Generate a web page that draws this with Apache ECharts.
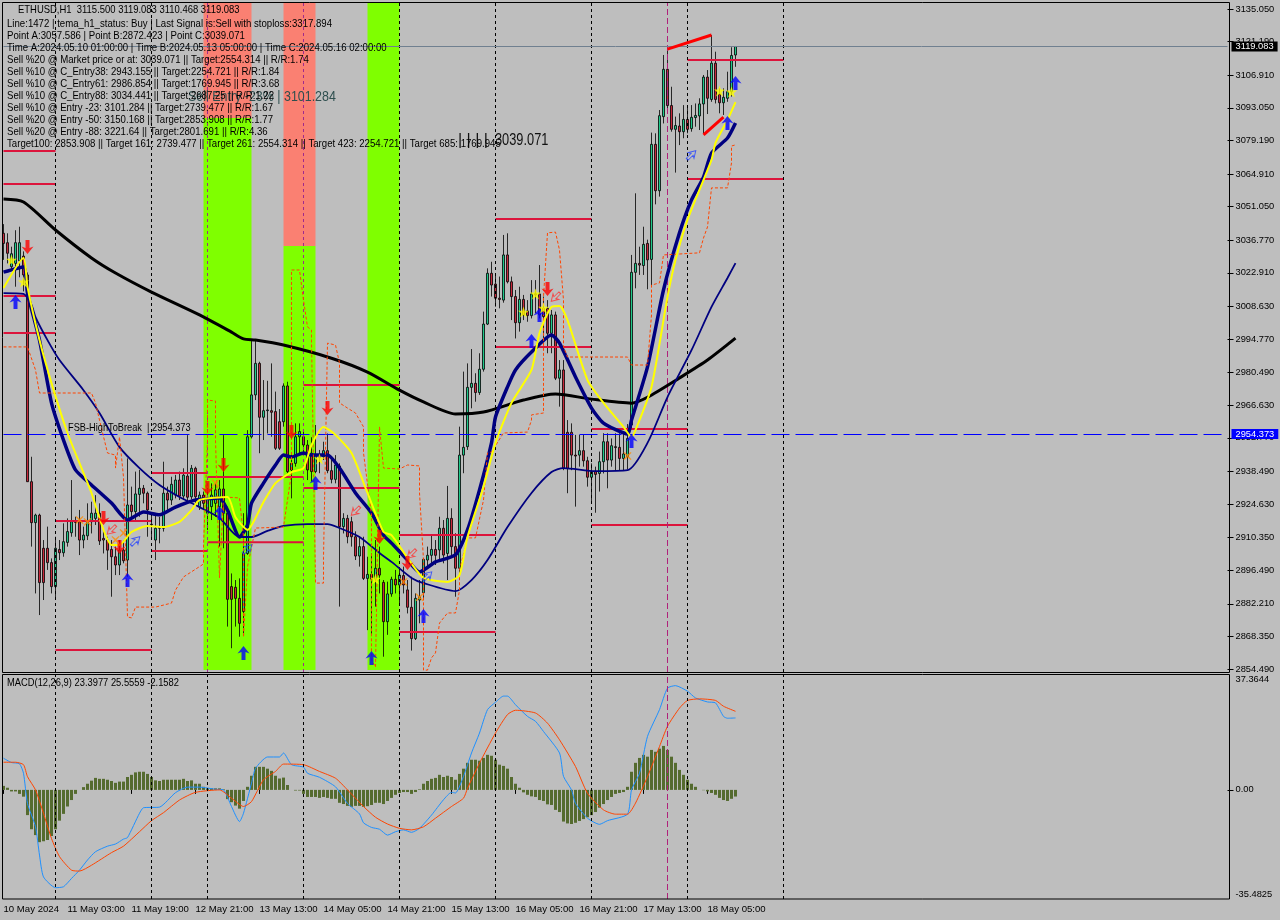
<!DOCTYPE html>
<html><head><meta charset="utf-8">
<style>html,body{margin:0;padding:0;background:#BEBEBE}#c{width:1280px;height:920px}</style>
<script src="https://cdn.jsdelivr.net/npm/echarts@6/dist/echarts.min.js"></script>
</head><body><div id="c"></div>
<script>
// [open, close, low, high] per H1 bar
const candles = [
[3039.7,3035.4,3028.4,3043.6],[3035.7,3031.2,3026.9,3039.7],[3025.5,3031,3024,3034],[3026.9,3035.7,3017,3041],[3028,3035.7,3021,3042.5],[3030,3022,3015,3032],[3022,2934.1,2934,3023],[2934.1,2916.7,2906.5,2944.7],
[2916.7,2919.9,2886.6,2920.5],[2919.9,2891.2,2877.4,2920.5],[2905.8,2891.2,2883.8,2909.3],[2905.8,2899.7,2896.6,2915],[2899.7,2889.5,2886.6,2901.5],[2889.5,2905.8,2884.5,2910.7],[2905.3,2903.9,2900.8,2909.3],[2903.9,2908.6,2902.2,2916.4],
[2908.3,2912.9,2906.5,2918.5],[2912.4,2917.1,2910.7,2934.8],[2917.1,2916.8,2910.7,2919.2],[2917.1,2909.3,2902.9,2922.1],[2909.3,2911.4,2905.8,2915],[2911.1,2917.1,2909.3,2924.9],[2917.1,2920.7,2912.1,2925.6],[2918.5,2920.7,2915.7,2928.4],
[2920.7,2908.9,2907.2,2924.9],[2910,2909.3,2903.6,2913.6],[2909.3,2905,2896.6,2910.7],[2905.3,2902.2,2885.2,2909.3],[2902.2,2898.7,2894.4,2906.5],[2898.7,2905,2894.4,2909.3],[2905,2900.5,2899.4,2909.3],[2900.8,2924.2,2893.7,2944],
[2924.2,2921.4,2917.8,2932],[2921.4,2928.9,2917.1,2938.4],[2928.7,2931.3,2919.2,2939.1],[2931.3,2929.2,2924.9,2932.7],[2929.2,2922.1,2910.7,2929.9],[2916,2915.8,2910,2920],[2909.3,2914.3,2900.8,2920.7],[2914.3,2914.6,2907.9,2919.2],
[2914.3,2929.2,2912.9,2942.6],[2929.2,2926.3,2922.1,2932],[2926.3,2933,2924.2,2936.2],[2928.4,2934.8,2927,2937],[2934.8,2928,2926.3,2938.4],[2928,2936.9,2926.3,2939.8],[2936.5,2927.5,2925.6,2953.9],[2927.7,2939.8,2926.6,2941.2],
[2939.8,2927.7,2924.9,2940.5],[2923.5,2928.4,2922.1,2929.9],[2928.4,2924.9,2922.1,2929.9],[2920.7,2927,2913.6,2931.3],[2923.5,2928.4,2917.8,2933.4],[2924.9,2930.6,2919.2,2933.4],[2923.5,2931,2906.5,2934.8],[2931,2920.7,2905.8,2953.9],
[2920.7,2884.1,2872.5,2923.5],[2889.5,2884.1,2863.3,2895.1],[2889.2,2884.5,2872.5,2892.3],[2884.5,2873.9,2868.2,2893],[2878.9,2903.6,2869.6,2920.7],[2903.6,2953.2,2903,2956],[2953.2,2971,2952.5,2994],[2971,2984.4,2968.8,2994.3],
[2984.4,2961.5,2946.2,2985.1],[2961.5,2964.3,2951.8,2977.3],[2964.3,2964.6,2954.6,2977],[2964.3,2963.6,2953.2,2984.4],[2963.9,2948.3,2947.6,2972.4],[2959.6,2948.3,2947.6,2965],[2959.6,2974.8,2957.5,2975.9],[2974.8,2938.4,2937.7,2976.6],
[2939.1,2941.9,2927,2946.2],[2941.9,2953.2,2940.5,2958.9],[2953.2,2955.4,2946.2,2958.9],[2953.2,2949.7,2946.2,2956],[2949.7,2939.1,2934.8,2951.8],[2946.2,2938.4,2934.1,2953],[2938.4,2945.4,2937.7,2958.2],[2944.7,2944.5,2937.7,2947.6],
[2944.7,2947.3,2943.3,2951.1],[2947.3,2938.8,2937.7,2954.6],[2938.8,2935.1,2933.4,2944],[2935.1,2941.2,2933.4,2945.4],[2940.8,2915,2881,2941.9],[2915,2918.5,2912.1,2920.7],[2918.5,2910.7,2907.9,2920],[2917.1,2910.7,2906.5,2919.2],
[2910.7,2902.5,2900.8,2913],[2902.5,2906.5,2898,2910.7],[2906.5,2893,2892.3,2910.7],[2893,2894.7,2871,2902.2],[2894.7,2892.7,2868.9,2903.6],[2892.7,2897.3,2881,2909.3],[2897.3,2894.4,2886.6,2906.5],[2891.3,2874.6,2859.7,2892.3],
[2874.6,2886.4,2869,2891.6],[2886.4,2892.6,2885.2,2893.7],[2892.6,2890.2,2886.6,2896.6],[2890.2,2894.4,2882.4,2896.6],[2894.2,2890.2,2886.6,2898],[2888.1,2880.7,2878.1,2892.3],[2880.7,2867.4,2862.3,2893.7],[2867.4,2884.5,2866.8,2886.6],
[2883.8,2885.2,2873.9,2892.3],[2886.9,2901.1,2883.8,2901.5],[2900.8,2902.8,2897.3,2906.5],[2902.8,2905.3,2899.4,2911.4],[2905.3,2902.8,2898.7,2909.3],[2905.1,2914.3,2900.1,2919.2],[2914.3,2902.9,2899.4,2917.8],[2903.6,2918.5,2892.3,2932.3],
[2918.5,2906.5,2902.9,2922.8],[2906.5,2897.3,2885.2,2912.2],[2897.3,2945.4,2895.1,2957.5],[2945.4,2948.7,2937.7,2980.9],[2949,2974.2,2947.6,2984.4],[2974.2,2975.9,2965.3,2990.5],[2975.9,2972,2968.1,2980.2],[2972,2981.9,2971,2988.7],
[2981.9,3001.1,2980.9,3006.4],[3001.1,3022.7,3000.7,3024.8],[3022.7,3017.7,3012.8,3027.6],[3018.1,3012.1,3008.5,3022.7],[3012.1,3011.6,3007.8,3021.3],[3011.3,3030.5,3010.2,3039],[3030.5,3019.1,3018.4,3039.7],[3019.1,3012.8,3002.8,3021.3],
[3012.8,3001.7,2995,3015.6],[3001.7,3011.6,2997.9,3017],[3011.6,3005,3002.8,3013.5],[3006.7,3004.7,3002.1,3011.3],[3004.7,3013.9,3003.5,3019.8],[3014,3013.5,3005.7,3019.8],[3013.9,3005,3003.5,3026.2],[3007.8,3004.3,2994.3,3012.8],
[3007.8,2997.2,2988.7,3011.3],[2997.2,3005,2988.7,3007.1],[3005,2978.1,2977.3,3006.4],[2978.1,2981.6,2966,2985.8],[2981.6,2939.8,2939,2985.8],[2955.1,2939.8,2929.2,2960.3],[2955.1,2945.4,2939,2958.9],[2945.4,2945,2923.5,2954],
[2945.4,2947.3,2940.5,2954],[2947.3,2943,2940.5,2954],[2943,2936,2932,2944.7],[2936,2938.4,2925.2,2941.9],[2938.4,2937.2,2920.9,2940.5],[2937.6,2942.6,2929.9,2946.9],[2942.6,2951.1,2937.6,2954.7],[2951.1,2943.3,2931.3,2954.7],
[2943.3,2949.4,2940.5,2952.5],[2949,2948.6,2939,2954.7],[2948.7,2944,2939,2954.7],[2944,2945.9,2939,2954.7],[2944.7,2952.5,2939.3,2958.6],[2958.2,3023.1,2956.8,3030.5],[3023.1,3026.9,3016.3,3056.7],[3026.9,3026.2,3022,3034],
[3026,3035,3022,3042.5],[3035.4,3028.4,3015.9,3037],[3028.6,3077.5,3017.7,3082.5],[3077.5,3057.8,3052,3082.2],[3057.8,3089.7,3055.3,3092.1],[3089.3,3109.4,3086.4,3115.5],[3109.4,3094,3091.4,3117.6],[3094,3083.9,3082.9,3102],
[3083.9,3085.5,3065.5,3089.3],[3085.3,3082.9,3077.2,3090.7],[3082.9,3088.1,3080.1,3094.2],[3088.1,3083.9,3082.2,3093.5],[3084.2,3089,3082.9,3094.2],[3088.9,3089.8,3085,3094.9],[3089.6,3094.7,3083.6,3097.1],[3094.7,3106.1,3082.2,3107],
[3106.1,3097.1,3090.4,3109.1],[3096.6,3112,3095.6,3124],[3112,3096.6,3094.9,3116.9],[3098.9,3095.2,3090.7,3101.3],[3095.2,3097.5,3090,3101.3],[3097.1,3099.9,3095.6,3108.4],[3099.9,3115.3,3097.8,3118.8],[3115.5,3119.083,3110.468,3119.083]
];
const emaBlack = [[0,3054.3],[5,3053],[13,3041.1],[22,3029.2],[28,3022.8],[37,3014.7],[49,3005],[57,2997.7],[60,2994.8],[63,2994.3],[70,2992.2],[82,2986.6],[91,2980.7],[99,2973],[105,2968],[113,2962.9],[120,2963.7],[130,2968.8],[138,2971.4],[147,2969.2],[157,2967.5],[161,2970],[169,2978.2],[176,2985.8],[183,2995.1]];
const navyThick = [[0,3023.2],[5,3025.4],[6,3014.3],[9,2994.3],[12,2967.6],[15,2951.8],[18,2939.1],[22,2932.7],[27,2925],[31,2917.8],[35,2921.2],[39,2920],[43,2923.3],[48,2926.3],[54,2927.2],[56,2922],[59,2910.6],[61,2915.7],[62,2925],[65,2933.5],[68,2941.2],[70,2945.4],[72,2944.6],[75,2946.3],[77,2945.4],[81,2945.4],[84,2939.9],[88,2929.3],[92,2920.8],[95,2911.4],[97,2908],[101,2900.8],[104,2895.7],[108,2900],[113,2903],[116,2913.6],[119,2930.6],[122,2950.6],[123,2961.6],[126,2974.4],[128,2981.6],[132,2989.2],[137,2996.5],[139,2993],[143,2978.6],[147,2965.4],[150,2959],[156,2954.4],[157,2960.3],[161,2982.9],[165,3015.6],[169,3039.9],[172,3053.9],[175,3063.6],[177,3073.8],[181,3080.2],[183,3086.6]];
const navyThin = [[0,3014.3],[5,3013.9],[7,3009.2],[8,3004.1],[11,2994.3],[14,2985.8],[20,2973],[24,2963.3],[29,2948.8],[34,2939.9],[39,2932.7],[44,2927.6],[49,2923.3],[54,2918.7],[59,2910.6],[62,2910.6],[66,2913.2],[70,2915.3],[76,2916.1],[81,2916.1],[84,2914.4],[89,2910.6],[94,2903.8],[97,2900],[102,2893.2],[105,2891],[113,2887.6],[117,2892.3],[121,2900.8],[126,2914.8],[132,2929.3],[137,2938.2],[140,2939.9],[148,2938.6],[156,2939],[161,2950.6],[166,2970.1],[172,2990],[177,3008.4],[181,3020.7],[183,3027]];
const yellowLine = [[0,3016.4],[5,3029.2],[6,3016.9],[9,2994.3],[12,2976],[16,2954.8],[20,2937.8],[22,2929.3],[25,2913.6],[27,2907.2],[29,2907.2],[32,2912.7],[36,2915.3],[40,2914.8],[44,2917],[47,2922],[49,2926.3],[56,2927.6],[58,2919],[61,2913.6],[65,2925.5],[68,2933.5],[72,2938.2],[75,2939.9],[77,2949.7],[80,2957.4],[83,2954],[87,2946.3],[91,2929.3],[95,2912.7],[97,2911.4],[101,2901.7],[105,2893.2],[111,2891.5],[114,2894.4],[116,2910.6],[120,2931.9],[123,2950.6],[127,2967.6],[132,2981.6],[134,2997.3],[137,3008.4],[139,3008.8],[141,3002.8],[146,2977.3],[150,2967.6],[155,2957.4],[157,2953.1],[158,2956],[162,2974.4],[166,3012.6],[168,3028.3],[171,3045.4],[177,3070.9],[178,3078.1],[181,3087.9],[183,3095.5]];
const orangeDash = [[0,2991.4],[5,2991.4],[6,2991.4],[8,2981.6],[9,2971.8],[22,2971.8],[23,2967.6],[24,2960.3],[26,2946.3],[28,2945.4],[28,2939.9],[29,2953.1],[30,2936.1],[31,2876.6],[32,2876.2],[33,2880.8],[38,2880.8],[42,2882.5],[43,2888],[45,2893.6],[50,2899.1],[50,2906.3],[51,2951.8],[51,2968.8],[53,2968.4],[53,2951.8],[54,2893.2],[55,2927.6],[59,2927.2],[60,2910.6],[60,2868],[61,2897.9],[63,2914.4],[70,2914.8],[72,2937.8],[72,3010.5],[72,3024.1],[74,3024.1],[75,3011.3],[76,2999.9],[77,2998.6],[77,2994.3],[78,2891],[80,2891],[80,2902],[81,2993],[83,2992.2],[84,2984.6],[84,2967.6],[86,2965.4],[88,2963.3],[90,2957.4],[90,2946.3],[92,2920],[92,2858.3],[93,2855.3],[94,2957.4],[95,2939.9],[99,2939.5],[101,2941.2],[104,2940.8],[104,2929.3],[105,2900.8],[105,2854],[106,2854],[107,2859.2],[108,2861.3],[109,2874],[111,2878.3],[113,2878.3],[114,2888],[114,2896.6],[116,2910.2],[118,2910.2],[120,2926.3],[121,2946.3],[122,2946.7],[125,2954.8],[131,2955.2],[132,2960.3],[132,2962.5],[135,2963.3],[135,2982.9],[135,3012.6],[136,3039.9],[138,3040.2],[139,3032.6],[140,3011.3],[140,2991.4],[141,2987.1],[156,2987.1],[157,2983.7],[161,2983.7],[162,3005],[162,3017.7],[164,3018.6],[165,3030.5],[174,3031.4],[175,3037.7],[176,3042.4],[177,3059],[181,3059],[182,3069.6],[182,3076.8],[183,3077.3]];
// level segments: [from bar, to bar, price]
const levels = [[0,13,3074.7],[0,13,3060.7],[0,13,3013],[0,13,2997.3],[13,37,2917.4],[13,37,2862.6],[37,51,2937.8],[37,51,2904.6],[51,75,2936.1],[51,75,2908.4],[75,99,2975.2],[75,99,2931.4],[99,123,2911.4],[99,123,2870.2],[123,147,3045.8],[123,147,2991.4],[147,171,2956.5],[147,171,2915.7],[171,195,3113.4],[171,195,3062.8]];
const trendA = [[166,3118],[177,3124]];
const trendB = [[175,3081.5],[180,3089.1]];
// zones: [from bar, to bar, low price, high price]
const limeZones = [[50,62,2854.05,3088.7],[70,78,2854.05,3034.3],[91,99,2854.05,3137.6]];
const salmonZones = [[50,62,3088.7,3137.6],[70,78,3034.3,3137.6]];
const blueUp = [[3,3010.5],[31,2892.3],[60,2861.3],[54,2920.8],[78,2933.5],[92,2859.2],[105,2877],[132,2993.9],[134,3005],[157,2951.4],[183,3103.6],[181,3086.6]];
const redDown = [[6,3033.9],[25,2918.7],[29,2906.3],[51,2931.4],[55,2941.2],[72,2955.2],[81,2965.4],[94,2910.6],[101,2899.5],[136,3016]];
const hollowRed = [[27,2913.6],[88,2921.6],[102,2903.4],[138,3012.6]];
const hollowBlue = [[33,2908.9],[61,2905.5],[106,2894],[172,3073]];
const yellowStars = [[2,3028.3],[5,3019],[79,2943.8],[93,2892.7],[130,3006.2],[133,3013.9],[135,3007.9],[179,3100.2],[182,3099.8]];
const orangeCross = [[19,2917.8],[21,2917],[28,2909.3],[30,2912.3],[53,2933.5],[100,2891.5],[104,2885],[156,2945]];
const separators = [13,37,75,99,123,147,171,195];
const sepMixed = [51,75];
const sepMagenta = 166;
const macdHist = [1.3,.7,-.5,-.5,-1.3,-2.2,-8.2,-12.8,-14.7,-17,-16.7,-16.3,-15,-12.8,-10,-7.8,-5.4,-3.3,-1.3,0,.9,2,3,3.9,3.6,3.6,3.3,2.9,2.3,2.7,2.7,4.2,4.9,5.7,5.9,5.9,5.2,4.2,3.1,2.9,3.3,3.3,3.3,3.3,3.3,3.6,2.9,3.1,2,2,1,.5,.5,.5,.5,.2,-3,-4,-5.1,-6.1,-3.6,1,4.6,7.5,7.5,7.5,6.9,6.2,4.6,3.7,4,1.6,0,-.2,-.2,-1.3,-2.3,-2.3,-2.3,-2.6,-2.3,-2.6,-2.9,-2.9,-4.2,-4.6,-5.2,-5.5,-5.2,-5.2,-5.5,-5.3,-4.9,-4.2,-4.2,-4.6,-3.6,-2.6,-1.6,-1,-.7,-.7,-1.3,-.7,.2,2,2.9,3.6,3.9,4.9,4.2,4.6,4.2,3.3,5.2,6.9,8.8,9.8,9.8,9.5,10.4,11.4,11.1,9.8,8.2,7.8,6.9,4.2,2,.7,-.8,-1.6,-2.1,-2.3,-3.3,-3.6,-4.7,-4.9,-6.5,-7.2,-10.3,-10.9,-11.1,-10.7,-10.1,-9.5,-8.9,-8.2,-7.2,-5.8,-4.6,-3.3,-2.3,-1.3,-1,-.7,1,5.9,8.8,10.4,11.4,10.8,13,12.4,13.4,14.3,13,10.8,8.8,6.5,4.9,3.3,2,1,0,-.1,-.5,-1,-1.6,-2.6,-3.3,-3.6,-2.9,-2.1582];
const macdMain = [[0,10.3],[2,8.9],[4,8.5],[5,5.4],[6,-4.4],[8,-12],[9,-21.2],[10,-28.3],[13,-31.8],[15,-31.5],[17,-28.8],[19,-26.1],[21,-22.8],[23,-20.1],[26,-18.3],[28,-17.6],[30,-16],[31,-15.5],[34,-7.6],[35,-5.8],[39,-5.6],[43,-.9],[46,.9],[49,.9],[53,.2],[55,0],[57,-5.4],[59,-10.3],[60,-7.6],[62,2.2],[63,7],[66,10.7],[69,10.7],[70,12],[72,8.2],[75,7.4],[76,5.4],[79,4.1],[83,1],[86,-4.4],[89,-7.8],[90,-10.7],[92,-12.2],[94,-12.8],[96,-14.7],[98,-13.6],[100,-13],[102,-13.8],[104,-12.5],[107,-8.2],[110,-3.2],[112,-.8],[113,-1],[115,4.4],[117,12],[119,18.5],[121,26.1],[123,28.5],[125,30.5],[126,30.5],[128,27.7],[131,23.9],[133,22.3],[135,19],[139,12],[140,4.4],[142,0],[143,-4.4],[146,-9.2],[149,-11.2],[151,-10],[156,-7.9],[157,0],[159,5.4],[161,17.4],[164,26.1],[166,33.1],[168,33.9],[171,32.1],[173,29.9],[176,28.6],[178,28.3],[180,23.9],[181,23.3],[183,23.3977]];
const macdSignal = [[0,9],[3,9],[5,8.2],[6,4.3],[8,0],[10,-7.6],[12,-15.8],[14,-21.7],[17,-26.1],[19,-26.4],[22,-24.5],[27,-20.4],[30,-18.3],[34,-13.6],[37,-10],[40,-7.4],[44,-3.3],[48,-.8],[54,0],[57,-2.7],[60,-5.4],[62,-3.8],[65,3.3],[68,6],[70,8.4],[75,8.2],[79,6],[83,3.8],[86,0],[90,-5.4],[93,-8.9],[96,-11.1],[99,-12.5],[102,-13],[105,-12],[108,-9.2],[112,-5.4],[115,-2.7],[116,.5],[119,8.7],[123,18.5],[126,24.5],[128,25.9],[133,25],[136,21.7],[139,16.3],[143,7.6],[146,-1.1],[150,-6.5],[153,-7.9],[156,-7.9],[158,-4.3],[161,4.3],[164,14.1],[166,20.7],[169,26.6],[171,29.1],[174,29.6],[178,29.1],[180,27.2],[183,25.5559]];
const priceTicks = [3135.05,3121.19,3106.91,3093.05,3079.19,3064.91,3051.05,3036.77,3022.91,3008.63,2994.77,2980.49,2966.63,2952.77,2938.49,2924.63,2910.35,2896.49,2882.21,2868.35,2854.49];
const macdTicks = [-35.4825,0,37.3644];
const timeLabels = ['10 May 2024','11 May 03:00','11 May 19:00','12 May 21:00','13 May 13:00','14 May 05:00','14 May 21:00','15 May 13:00','16 May 05:00','16 May 21:00','17 May 13:00','18 May 05:00'];
const infoLines = [
'Line:1472 | tema_h1_status: Buy | Last Signal is:Sell with stoploss:3317.894',
'Point A:3057.586 | Point B:2872.423 | Point C:3039.071',
'Time A:2024.05.10 01:00:00 | Time B:2024.05.13 05:00:00 | Time C:2024.05.16 02:00:00',
'Sell %20 @ Market price or at: 3039.071 || Target:2554.314 || R/R:1.74',
'Sell %10 @ C_Entry38: 2943.155 || Target:2254.721 || R/R:1.84',
'Sell %10 @ C_Entry61: 2986.854 || Target:1769.945 || R/R:3.68',
'Sell %10 @ C_Entry88: 3034.441 || Target:2687.25 || R/R:1.22',
'Sell %10 @ Entry -23: 3101.284 || Target:2739.477 || R/R:1.67',
'Sell %20 @ Entry -50: 3150.168 || Target:2853.908 || R/R:1.77',
'Sell %20 @ Entry -88: 3221.64 || Target:2801.691 || R/R:4.36',
'Target100: 2853.908 || Target 161: 2739.477 || Target 261: 2554.314 || Target 423: 2254.721 || Target 685: 1769.945'];
const headerText = 'ETHUSD,H1  3115.500 3119.083 3110.468 3119.083';
const macdText = 'MACD(12,26,9) 23.3977 25.5559 -2.1582';

const FONT = "'Liberation Sans',sans-serif";
const AXFS = 9.3;
const TIMEFS = 9.6;
const barCount = 307;
const categories = Array.from({length:barCount},(_,i)=>String(i));
const P_MAX = 3137.6, P_MIN = 2853.2;
const ink = '#000';
const sym = {
  up:'path://M6 0 L12 7.5 L8 6 L8 14 L4 14 L4 6 L0 7.5 Z',
  down:'path://M4 0 L8 0 L8 8 L12 6.5 L6 14 L0 6.5 L4 8 Z',
  star:'path://M5 0 L6.2 3.6 L10 3.6 L7 5.9 L8.1 9.6 L5 7.4 L1.9 9.6 L3 5.9 L0 3.6 L3.8 3.6 Z',
  cross:'path://M1 0 L5 3.5 L9 0 L10 1 L6.2 5 L10 9 L9 10 L5 6.5 L1 10 L0 9 L3.8 5 L0 1 Z'
};
const isTick = i => i%16===0 && i<=176;
const gapped = segs => { const a=[]; segs.forEach(s=>{a.push([s[0],s[2]],[s[1],s[2]],[s[1],null]);}); return a; };
const line = (name,data,color,width,extra) => Object.assign({name,type:'line',data,showSymbol:false,symbol:'none',animation:false,silent:true,lineStyle:{color,width},itemStyle:{color}},extra||{});
const scatter = (name,data,symbol,size,color,extra) => Object.assign({name,type:'scatter',data,symbol,symbolSize:size,animation:false,silent:true,itemStyle:{color},z:9},extra||{});

const series = [
  {type:'line',name:'zones',data:[],animation:false,silent:true,z:1,
   markArea:{silent:true,animation:false,data:[
     ...limeZones.map(z=>[{coord:[String(z[0]),z[2]],itemStyle:{color:'#7FFF00',opacity:1}},{coord:[String(z[1]),z[3]]}]),
     ...salmonZones.map(z=>[{coord:[String(z[0]),z[2]],itemStyle:{color:'#FA8072',opacity:1}},{coord:[String(z[1]),z[3]]}])
   ]}},
  {type:'line',name:'separators',data:[],animation:false,silent:true,z:2,
   markLine:{silent:true,animation:false,symbol:'none',label:{show:false},data:[
     ...separators.filter(i=>!sepMixed.includes(i)).map(i=>({xAxis:String(i),lineStyle:{color:'#000',type:[3,3],width:1}})),
     ...sepMixed.map(i=>({xAxis:String(i),lineStyle:{color:'#A02A8C',type:[3,3],width:1}})),
     {xAxis:String(sepMagenta),lineStyle:{color:'#B0207A',type:[6,3],width:1}}
   ]}},
  {type:'candlestick',name:'ETHUSD',data:candles,barWidth:3,animation:false,silent:true,z:3,
   itemStyle:{color:'#1FC98A',color0:'#C8283C',borderColor:'#000',borderColor0:'#000',borderWidth:.8}},
  line('levels',gapped(levels),'#DC143C',2,{z:4,connectNulls:false}),
  line('ma200',emaBlack,'#000',3,{z:5,smooth:.25}),
  line('navyThin',navyThin,'#000080',1.8,{z:5,smooth:.25}),
  line('navyThick',navyThick,'#000080',3.5,{z:6,smooth:.2}),
  line('yellow',yellowLine,'#FFFF00',2,{z:7,smooth:.2}),
  {...line('stepped',orangeDash,'#FF4500',1,{z:6}),lineStyle:{color:'#FF4500',width:1,type:[3,2]}},
  line('trendA',trendA,'#FF0000',3,{z:8}),
  line('trendB',trendB,'#FF0000',3,{z:8}),
  {type:'line',name:'priceLines',data:[],animation:false,silent:true,z:8,
   markLine:{silent:true,animation:false,symbol:'none',data:[
     {yAxis:3119.083,lineStyle:{color:'#708090',width:1,type:'solid'},
      label:{show:true,position:'end',distance:4,formatter:'3119.083',color:'#fff',backgroundColor:'#000',padding:[0,4],lineHeight:10,height:10,fontFamily:FONT,fontSize:AXFS}},
     {yAxis:2954.373,lineStyle:{color:'#0000FF',width:1,type:[18,6]},
      label:{show:true,position:'end',distance:4,formatter:'2954.373',color:'#fff',backgroundColor:'#0000FF',padding:[0,4],lineHeight:10,height:10,fontFamily:FONT,fontSize:AXFS}}
   ]}},
  scatter('blueUp',blueUp,sym.up,[12,14],'#0000FF'),
  scatter('redDown',redDown,sym.down,[12,14],'#FF0000'),
  scatter('hollowRed',hollowRed,sym.up,[8,12],'rgba(0,0,0,0)',{symbolRotate:135,itemStyle:{color:'rgba(0,0,0,0)',borderColor:'#FF3030',borderWidth:1}}),
  scatter('hollowBlue',hollowBlue,sym.up,[8,12],'rgba(0,0,0,0)',{symbolRotate:-45,itemStyle:{color:'rgba(0,0,0,0)',borderColor:'#2040FF',borderWidth:1}}),
  scatter('stars',yellowStars,sym.star,11,'#FFFF00',{z:10}),
  scatter('cross',orangeCross,sym.cross,8,'#FF8C00'),
  // MACD pane
  {type:'line',name:'macdSeparators',xAxisIndex:1,yAxisIndex:1,data:[],animation:false,silent:true,z:2,
   markLine:{silent:true,animation:false,symbol:'none',label:{show:false},data:[
     ...[13,37,51,75,99,123,147,171,195].map(i=>({xAxis:String(i),lineStyle:{color:'#000',type:[3,3],width:1}})),
     {xAxis:String(sepMagenta),lineStyle:{color:'#B0207A',type:[6,3],width:1}}
   ]}},
  {type:'bar',name:'hist',xAxisIndex:1,yAxisIndex:1,data:macdHist,barWidth:3,animation:false,silent:true,z:3,itemStyle:{color:'#556B2F'}},
  line('macd',macdMain,'#1E90FF',1,{xAxisIndex:1,yAxisIndex:1,z:4,smooth:.2}),
  line('signal',macdSignal,'#FF4500',1,{xAxisIndex:1,yAxisIndex:1,z:4,smooth:.2})
];

const labelStyle = {fontFamily:FONT,fontSize:AXFS,color:ink};
const frame = (x,y,w,h)=>({type:'rect',shape:{x,y,width:w,height:h},style:{fill:null,stroke:'#000',lineWidth:1},silent:true,z:50});
const txt = (x,y,text,sx,color,size)=>({type:'text',x,y,scaleX:sx||.917,style:{text,fill:color||ink,font:(size||10.5)+'px '+FONT,textVerticalAlign:'middle'},silent:true,z:60});
const graphics = [
  frame(2.5,2.5,1227,670),frame(2.5,674.5,1227,224.5),
  txt(188,97,'Sell Entry -23% | 3101.284',.83,'#2F4F4F',15),
  txt(458,141,'| | | |',1,'#111',16),
  txt(495,141,'3039.071',.8,'#111',16),
  txt(18,10.5,headerText,.9),
  ...infoLines.map((t,k)=>txt(7,23.7+12*k,t)),
  txt(68,428,'FSB-HighToBreak  | 2954.373',.88),
  txt(7,683,macdText,.89)
];

const chart = echarts.init(document.getElementById('c'),null,{renderer:'canvas'});
chart.setOption({
  backgroundColor:'#BEBEBE',animation:false,
  grid:[{left:3.5,top:3,width:1224,height:669,containLabel:false},{left:3.5,top:675,width:1224,height:224,containLabel:false}],
  xAxis:[
    {type:'category',gridIndex:0,data:categories,boundaryGap:false,axisLine:{show:false},axisTick:{show:false},axisLabel:{show:false},splitLine:{show:false}},
    {type:'category',gridIndex:1,data:categories,boundaryGap:false,axisLine:{show:false},
     axisTick:{show:true,length:4,interval:(i)=>isTick(i),lineStyle:{color:'#000'}},
     axisLabel:{...labelStyle,fontSize:TIMEFS,align:'left',margin:5,hideOverlap:false,interval:(i)=>isTick(i),formatter:(v)=>timeLabels[Number(v)/16]||''},splitLine:{show:false}}
  ],
  yAxis:[
    {type:'value',gridIndex:0,position:'right',min:P_MIN,max:P_MAX,scale:true,splitLine:{show:false},axisLine:{show:false},
     axisTick:{show:true,length:6,customValues:priceTicks,lineStyle:{color:'#000'}},
     axisLabel:{...labelStyle,margin:8,customValues:priceTicks,formatter:v=>v.toFixed(3)}},
    {type:'value',gridIndex:1,position:'right',min:-35.4825,max:37.3644,splitLine:{show:false},axisLine:{show:false},
     axisTick:{show:true,length:6,customValues:[0],lineStyle:{color:'#000'}},
     axisLabel:{...labelStyle,margin:8,customValues:macdTicks,verticalAlignMaxLabel:'top',verticalAlignMinLabel:'bottom',formatter:v=>v===0?'0.00':String(v)}}
  ],
  series,
  graphic:graphics
});
</script></body></html>
